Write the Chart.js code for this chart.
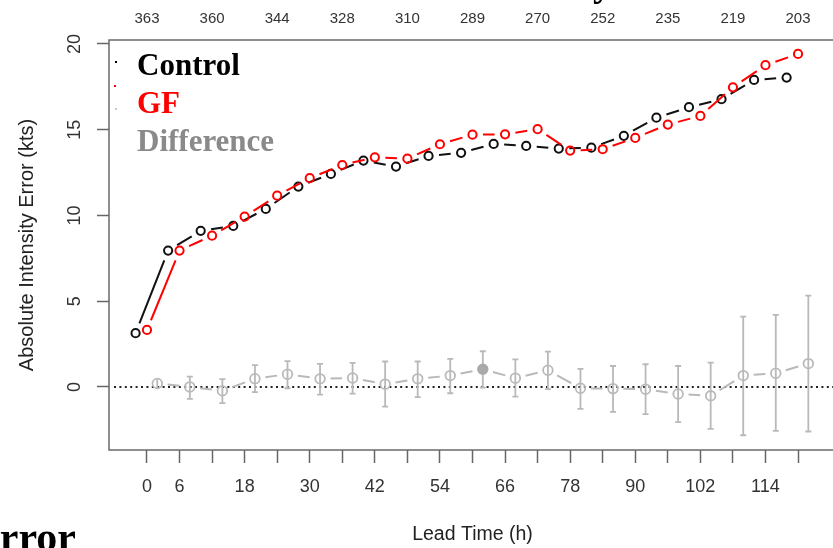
<!DOCTYPE html>
<html lang="en">
    <head>
        <meta charset="UTF-8" />
        <title>Absolute Intensity Error</title>
        <script src="https://cdn.jsdelivr.net/npm/chart.js"></script>
        <style>
            html, body { margin: 0; padding: 0; background: #fff; overflow: hidden; }
            #wrap { width: 833px; height: 548px; overflow: hidden; position: relative; }
            #myChart { display: block; }
        </style>
    </head>
    <body>
        <div id="wrap">
            <canvas id="myChart" width="860" height="548" style="width:860px;height:548px"></canvas>
        </div>

        <script>
            // lead times (h) and the values
            const leadHours = [0, 6, 12, 18, 24, 30, 36, 42, 48, 54, 60, 66, 72, 78, 84, 90, 96, 102, 108, 114, 120];
            const controlErr = [3.13, 7.95, 9.1, 9.39, 10.38, 11.68, 12.42, 13.2, 12.85, 13.47, 13.65, 14.17, 14.05, 13.9, 13.95, 14.64, 15.7, 16.31, 16.78, 17.9, 18.04];
            const gfErr = [3.32, 7.95, 8.82, 9.93, 11.15, 12.17, 12.94, 13.39, 13.31, 14.15, 14.71, 14.73, 15.03, 13.78, 13.86, 14.52, 15.3, 15.8, 17.47, 18.76, 19.42];
            const diffErr = [0.2, 0.0, -0.23, 0.48, 0.74, 0.47, 0.52, 0.16, 0.47, 0.66, 1.03, 0.51, 0.97, -0.08, -0.1, -0.13, -0.41, -0.52, 0.66, 0.8, 1.36];
            const diffUpper = [0.45, 0.6, 0.45, 1.27, 1.5, 1.34, 1.4, 1.48, 1.48, 1.63, 2.08, 1.6, 2.06, 1.05, 1.22, 1.32, 1.22, 1.42, 4.1, 4.2, 5.32];
            const diffLower = [-0.05, -0.7, -0.95, -0.31, -0.08, -0.45, -0.39, -1.15, -0.6, -0.37, -0.04, -0.57, -0.13, -1.28, -1.46, -1.59, -2.06, -2.45, -2.82, -2.57, -2.6];
            const significant = [false, false, false, false, false, false, false, false, false, false, true, false, false, false, false, false, false, false, false, false, false];

            const yTicks = [0, 5, 10, 15, 20];
            const labeledHours = [0, 6, 18, 30, 42, 54, 66, 78, 90, 102, 114];
            const countHours = [0, 12, 24, 36, 48, 60, 72, 84, 96, 108, 120];
            const sampleSizes = [363, 360, 344, 328, 310, 289, 270, 252, 235, 219, 203];

            const sans = "'Liberation Sans', Arial, sans-serif";
            const serif = "'Liberation Serif', 'Times New Roman', serif";
            const diffGray = "#b9b9b9";

            // R type="b": each line segment stops short of the points.
            // segment length comes from the scales (points may not be placed yet)
            const gapDash = (gap) => (c) => {
                const ch = c.chart;
                const pts = ch.data.datasets[c.datasetIndex].data;
                const a = pts[c.p0DataIndex], b = pts[c.p1DataIndex];
                const dx = ch.scales.x.getPixelForValue(b.x) - ch.scales.x.getPixelForValue(a.x);
                const dy = ch.scales.y.getPixelForValue(b.y) - ch.scales.y.getPixelForValue(a.y);
                const L = Math.hypot(dx, dy);
                if (!isFinite(L)) return [];
                return [0, gap, Math.max(L - 2 * gap, 0.01), gap + 2000];
            };

            const series = (offset, values) =>
                leadHours.map((h, i) => ({ x: h + offset, y: values[i] }));

            const framePlugin = {
                id: "frame",
                beforeDatasetsDraw(chart) {
                    const { ctx, chartArea: a, scales } = chart;
                    const y0 = scales.y.getPixelForValue(0);
                    ctx.save();
                    // dotted zero line
                    ctx.strokeStyle = "#222";
                    ctx.lineWidth = 2;
                    ctx.setLineDash([2, 3.4]);
                    ctx.beginPath();
                    ctx.moveTo(a.left + 5, y0);
                    ctx.lineTo(a.right, y0);
                    ctx.stroke();
                    ctx.setLineDash([]);
                    // error bars of the difference
                    ctx.strokeStyle = diffGray;
                    ctx.lineWidth = 1.8;
                    leadHours.forEach((h, i) => {
                        const x = scales.x.getPixelForValue(h + 1.9);
                        const yt = scales.y.getPixelForValue(diffUpper[i]);
                        const yb = scales.y.getPixelForValue(diffLower[i]);
                        ctx.beginPath();
                        ctx.moveTo(x, yt);
                        ctx.lineTo(x, yb);
                        if (yb - yt > 14) {
                            ctx.moveTo(x - 3, yt);
                            ctx.lineTo(x + 3, yt);
                            ctx.moveTo(x - 3, yb);
                            ctx.lineTo(x + 3, yb);
                        }
                        ctx.stroke();
                    });
                    ctx.restore();
                },
                afterDraw(chart) {
                    const { ctx, chartArea: a } = chart;
                    ctx.save();
                    ctx.strokeStyle = "#6a6a6a";
                    ctx.lineWidth = 1.5;
                    ctx.strokeRect(a.left, a.top, a.right - a.left, a.bottom - a.top);

                    // cropped legend symbols
                    ctx.fillStyle = "#000";
                    ctx.fillRect(115, 61, 2, 2);
                    ctx.fillStyle = "#ff0000";
                    ctx.fillRect(114, 85, 2, 2);
                    ctx.fillStyle = "#c8c8c8";
                    ctx.fillRect(115, 108, 2, 2);

                    // legend text
                    ctx.font = "bold 31px " + serif;
                    ctx.textAlign = "left";
                    ctx.textBaseline = "alphabetic";
                    ctx.fillStyle = "#000";
                    ctx.fillText("Control", 137, 75);
                    ctx.fillStyle = "#ff0000";
                    ctx.fillText("GF", 137, 113);
                    ctx.fillStyle = "#8a8a8a";
                    ctx.fillText("Difference", 137, 151);

                    // neighbouring page text cut by the crop
                    ctx.fillStyle = "#000";
                    ctx.textAlign = "right";
                    ctx.font = "bold 42px " + serif;
                    ctx.fillText("Error", 76, 551);
                    ctx.font = "bold 38px " + serif;
                    ctx.fillText("Intensity", 612, -4);
                    ctx.restore();
                },
            };

            const ctx = document.getElementById("myChart").getContext("2d");
            const myChart = new Chart(ctx, {
                type: "line",
                data: {
                    datasets: [
                        {
                            label: "GF",
                            data: series(0, gfErr),
                            borderColor: "#ff0000",
                            borderWidth: 2,
                            pointRadius: 4.1,
                            pointBorderWidth: 2,
                            pointBackgroundColor: "rgba(0,0,0,0)",
                            pointBorderColor: "#ff0000",
                            segment: { borderDash: gapDash(10.5) },
                        },
                        {
                            label: "Control",
                            data: series(-2.1, controlErr),
                            borderColor: "#111",
                            borderWidth: 2,
                            pointRadius: 4.1,
                            pointBorderWidth: 2,
                            pointBackgroundColor: "rgba(0,0,0,0)",
                            pointBorderColor: "#111",
                            segment: { borderDash: gapDash(10.5) },
                        },
                        {
                            label: "Difference",
                            data: series(1.9, diffErr),
                            borderColor: diffGray,
                            borderWidth: 2,
                            pointRadius: 4.8,
                            pointBorderWidth: 1.8,
                            pointBackgroundColor: significant.map((s) => (s ? "#aaaaaa" : "rgba(0,0,0,0)")),
                            pointBorderColor: significant.map((s) => (s ? "#aaaaaa" : diffGray)),
                            segment: { borderDash: gapDash(10.5) },
                        },
                    ],
                },
                options: {
                    responsive: false,
                    animation: false,
                    layout: { padding: { left: 0, right: 24, top: 0, bottom: 0 } },
                    plugins: {
                        legend: { display: false },
                        tooltip: { enabled: false },
                    },
                    scales: {
                        x: {
                            type: "linear",
                            position: "bottom",
                            min: -7,
                            max: 127,
                            afterBuildTicks: (scale) => {
                                scale.ticks = leadHours.map((v) => ({ value: v }));
                            },
                            afterFit: (scale) => { scale.height = 98; },
                            ticks: {
                                autoSkip: false,
                                maxRotation: 0,
                                padding: 13,
                                color: "#333",
                                font: { family: sans, size: 18 },
                                callback: (v) => (labeledHours.includes(v) ? String(v) : ""),
                            },
                            grid: {
                                drawOnChartArea: false,
                                drawTicks: true,
                                tickLength: 13,
                                tickColor: "#666",
                                tickWidth: 1.5,
                            },
                            border: { display: false },
                            title: {
                                display: true,
                                text: "Lead Time (h)",
                                color: "#222",
                                font: { family: sans, size: 19.5 },
                                padding: { top: 0, bottom: 1.5 },
                            },
                        },
                        x2: {
                            type: "linear",
                            position: "top",
                            min: -7,
                            max: 127,
                            afterBuildTicks: (scale) => {
                                scale.ticks = countHours.map((v) => ({ value: v }));
                            },
                            afterFit: (scale) => { scale.height = 40; },
                            ticks: {
                                autoSkip: false,
                                maxRotation: 0,
                                padding: 4,
                                color: "#333",
                                font: { family: sans, size: 15 },
                                callback: (v) => String(sampleSizes[countHours.indexOf(v)]),
                            },
                            grid: { display: false },
                            border: { display: false },
                        },
                        y: {
                            type: "linear",
                            position: "left",
                            min: -3.68,
                            max: 20.23,
                            afterBuildTicks: (scale) => {
                                scale.ticks = yTicks.map((v) => ({ value: v }));
                            },
                            afterFit: (scale) => { scale.width = 109; },
                            ticks: {
                                minRotation: 90,
                                maxRotation: 90,
                                crossAlign: "center",
                                padding: 12,
                                color: "#333",
                                font: { family: sans, size: 18 },
                            },
                            grid: {
                                drawOnChartArea: false,
                                drawTicks: true,
                                tickLength: 12,
                                tickColor: "#666",
                                tickWidth: 1.5,
                            },
                            border: { display: false },
                            title: {
                                display: true,
                                text: "Absolute Intensity Error (kts)",
                                color: "#222",
                                font: { family: sans, size: 20 },
                                padding: { top: 15, bottom: 0 },
                            },
                        },
                    },
                },
                plugins: [framePlugin],
            });
        </script>
    </body>
</html>
